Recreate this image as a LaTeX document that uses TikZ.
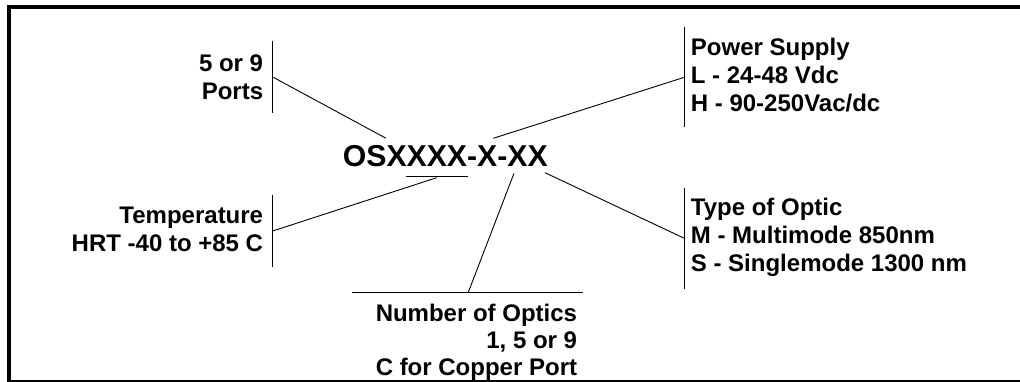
\documentclass[tikz,border=0pt]{standalone}
\usepackage{fontspec}
\setmainfont{Liberation Sans}
\begin{document}
\begin{tikzpicture}[x=1pt,y=-1pt,
  lbl/.style={inner sep=0pt, font=\bfseries\fontsize{24}{28.2}\selectfont},
  head/.style={inner sep=0pt, font=\bfseries\fontsize{30.2}{34}\selectfont},
  bar/.style={line width=1pt},
  conn/.style={line width=0.9pt},
  frame/.style={line width=4.3pt}]
\useasboundingbox (0,0) rectangle (1020,382);
\draw[frame] (9.3,7) rectangle (1040,382.5);

% heading
\node[head, anchor=base west] (code) at (342.7,166.7) {OSXXXX-X-XX};

% labels (base anchor = baseline of the last line)
\node[lbl, anchor=base east, align=right] (ports) at (263.3,99.3) {5 or 9\\Ports};
\node[lbl, anchor=base east, align=right] (temp) at (263.3,251.7) {Temperature\\HRT -40 to +85 C};
\node[lbl, anchor=base west, align=left] (power) at (690.7,111.7) {Power Supply\\L - 24-48 Vdc\\H - 90-250Vac/dc};
\node[lbl, anchor=base west, align=left] (optic) at (690.7,271.7) {Type of Optic\\M - Multimode 850nm\\S - Singlemode 1300 nm};
\node[lbl, anchor=base east, align=right, font=\bfseries\fontsize{24}{27}\selectfont] (num) at (577.3,375) {Number of Optics\\1, 5 or 9\\C for Copper Port};

% bars
\coordinate (portsT) at (272.7,40.7);  \coordinate (portsB) at (272.7,112.7);
\coordinate (tempT) at (272.7,195);    \coordinate (tempB) at (272.7,267.3);
\coordinate (powerT) at (684.3,26.7);  \coordinate (powerB) at (684.3,126.7);
\coordinate (opticT) at (684.3,188.3); \coordinate (opticB) at (684.3,289.3);
\coordinate (numL) at (351.7,292.3);   \coordinate (numR) at (583.3,292.3);
\coordinate (ulL) at (406,176.7);      \coordinate (ulR) at (467.7,176.7);
\draw[bar] (portsT) -- (portsB);
\draw[bar] (tempT) -- (tempB);
\draw[bar] (powerT) -- (powerB);
\draw[bar] (opticT) -- (opticB);
\draw[bar] (numL) -- (numR);
\draw[bar] (ulL) -- (ulR);

% connector ends
\coordinate (cPortsA) at (273.3,77.3);  \coordinate (cPortsB) at (386,138.3);
\coordinate (cPowA) at (493.3,138.3);   \coordinate (cPowB) at (684.3,77.3);
\coordinate (cTempA) at (436.7,177.7);  \coordinate (cTempB) at (272.7,231);
\coordinate (cOptA) at (545,172.7);     \coordinate (cOptB) at (684.3,238.3);
\coordinate (cNumA) at (514,173.3);     \coordinate (cNumB) at (468.3,292.3);
\draw[conn] (cPortsA) -- (cPortsB);
\draw[conn] (cPowA) -- (cPowB);
\draw[conn] (cTempA) -- (cTempB);
\draw[conn] (cOptA) -- (cOptB);
\draw[conn] (cNumA) -- (cNumB);
\end{tikzpicture}
\end{document}
